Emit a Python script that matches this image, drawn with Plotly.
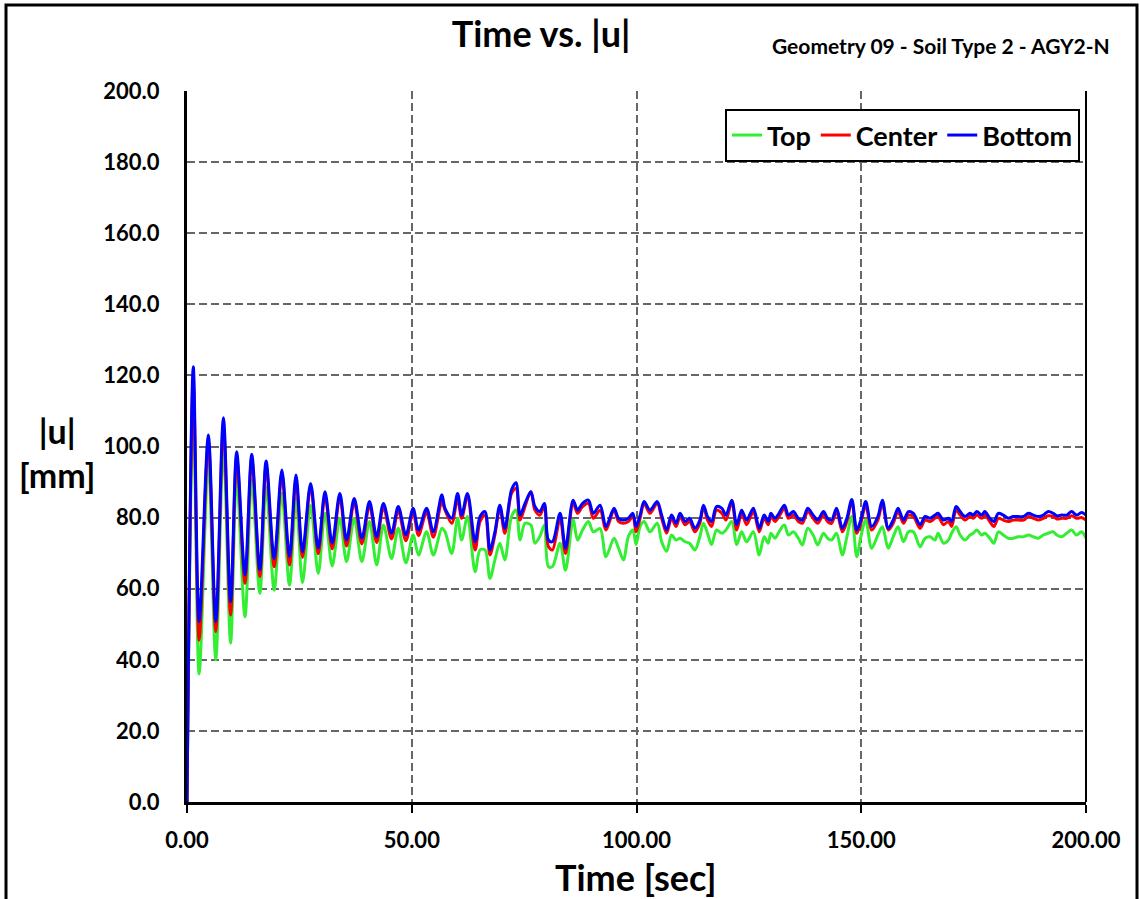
import plotly.graph_objects as go

# ---- data ----
time_s = [
    0, 1.4, 2.7, 4.75, 6.4, 8.1, 9.7, 11.05, 12.9, 14.4, 16.2, 17.6, 19.4, 21.1, 22.8, 24.25,
    25.7, 27.5, 29.2, 30.7, 32.3, 34.0, 35.5, 37.2, 38.9, 40.6, 42.2, 43.7, 45.5, 47.0, 48.7,
    50.3, 51.5, 53.3, 54.8, 56.7,
    57.4, 58.9, 60.2, 61.1, 62.4, 64.1, 65.2, 66.3, 67.4, 68.5, 69.6, 70.7, 72.2, 73.2, 74.1,
    75.2, 76.5, 77.4, 78.5, 79.5, 80.4, 81.3, 83.0, 84.2, 85.9, 86.9, 88.0, 89.3, 90.4, 91.9,
    93.2, 95.0, 96.0, 97.1, 98.2, 99.2, 99.9, 100.8, 101.7, 103.0, 104.6, 105.6, 106.7, 107.8,
    108.8, 109.7, 110.8, 111.8, 113.0, 114.1, 114.9, 115.8, 116.7, 117.8, 119.0, 119.9, 121.2,
    122.3, 123.4, 124.5, 126.0,
    127.3, 128.4, 129.3, 129.9, 130.8, 131.7, 132.9, 133.8, 134.9, 136.0, 136.9, 138.1, 139.3,
    140.3, 141.6, 142.5, 143.4, 144.5, 145.8, 146.8, 147.9, 149.0, 149.9, 151.0, 152.3, 153.7,
    154.7, 156.0, 157.1, 158.2, 159.4, 160.5, 161.6, 163.1,
    164.2, 165.3, 166.4, 167.1, 168.3, 169.4, 170.1, 171.1, 172.0, 173.1, 174.2, 174.9, 175.7,
    176.8, 177.5, 178.6, 179.5, 180.5, 181.6, 182.7, 183.8, 184.9, 186.1, 187.2, 188.3, 189.4,
    190.5, 191.6, 192.7, 193.5, 194.6, 195.7, 196.8, 197.9, 199.0, 200.0,
]

u_top = [
    0, 112.0, 36.0, 95.7, 40.0, 100.0, 44.7, 91.5, 52.1, 90.6, 58.7, 88.7, 59.6, 86.8, 61.0, 85.4,
    61.7, 83.5, 64.3, 81.2, 66.4, 79.8, 67.6, 79.8, 67.6, 78.9, 66.7, 77.9, 68.5, 77.0, 67.3,
    75.1, 69.5, 76.0, 69.5, 77.0,
    76.0, 69.9, 79.8, 73.7, 80.3, 64.8, 70.9, 70.9, 62.9, 68.1, 72.8, 68.1, 80.3, 82.1, 73.7,
    78.4, 77.9, 72.8, 74.7, 77.9, 66.2, 66.2, 72.8, 65.2, 79.3, 73.7, 76.5, 78.9, 76.0, 76.9,
    69.0, 74.2, 71.4, 68.1, 74.7, 76.5, 72.4, 77.5, 78.9, 76.0, 78.4, 73.2, 70.5, 75.1,
    73.7, 74.2, 73.2, 72.8, 70.9, 74.7, 78.4, 75.6, 72.4, 76.5, 75.6, 76.5, 78.9,
    72.4, 76.0, 73.2, 76.0,
    69.5, 74.6, 72.8, 75.6, 74.2, 76.0, 77.9, 75.1, 76.0, 74.2, 72.3, 77.0, 75.1,
    72.3, 75.6, 74.2, 73.7, 75.6, 69.5, 74.6, 80.3, 69.0, 74.6, 79.3, 71.4, 75.1,
    77.4, 71.4, 74.6, 77.4, 73.2, 76.0, 76.0, 71.8,
    74.2, 74.6, 73.7, 75.6, 72.8, 73.7, 75.6, 77.4, 75.1, 73.7, 75.1, 75.6, 76.5,
    75.1, 75.6, 74.2, 72.8, 76.0, 75.1, 74.2, 74.2, 74.6, 74.6, 75.1, 74.6, 74.2,
    75.1, 75.6, 76.0, 75.1, 74.6, 75.6, 76.5, 75.1, 76.0, 74.2,
]

u_center = [
    0, 119.0, 45.5, 101.5, 47.9, 106.0, 52.6, 97.0, 61.5, 96.5, 63.4, 94.5, 66.2, 92.0, 66.7, 90.5,
    68.8, 88.7, 69.8, 86.3, 71.2, 85.8, 72.0, 84.4, 72.6, 83.5, 73.0, 83.0, 74.0, 82.1, 73.5,
    81.6, 75.0, 81.5, 74.5, 84.5,
    82.1, 78.4, 85.4, 79.8, 85.9, 70.9, 78.9, 80.7, 69.5, 75.1, 82.6, 75.6, 86.8, 88.2, 79.3,
    83.1, 87.3, 82.1, 80.7, 83.1, 71.9, 70.9, 79.8, 69.9, 84.0, 81.2, 83.1, 84.0, 79.8, 82.1,
    76.5, 82.1, 78.9, 78.4, 78.9, 80.3, 76.0, 79.8, 84.0, 81.2, 84.0, 79.8, 75.6, 79.8,
    77.5, 80.3, 78.0, 78.9, 76.0, 78.4, 83.1, 79.3, 77.5, 82.1, 81.2, 79.3, 84.5,
    76.5, 81.2, 78.0, 81.7,
    76.0, 79.8, 78.0, 80.3, 78.9, 80.3, 82.6, 79.8, 80.7, 78.9, 78.4, 81.7, 79.8,
    78.4, 80.7, 78.9, 78.4, 81.7, 76.0, 78.9, 84.5, 75.6, 78.4, 83.5, 76.5, 79.3,
    84.0, 76.5, 78.4, 81.7, 78.4, 80.7, 80.3, 77.0,
    79.3, 78.9, 79.8, 80.3, 78.0, 78.9, 77.5, 82.1, 80.7, 79.3, 80.3, 79.8, 80.7,
    79.8, 80.7, 78.9, 77.5, 79.8, 79.3, 78.9, 79.3, 79.3, 79.3, 80.3, 79.8, 79.3,
    79.8, 80.5, 80.3, 79.6, 79.8, 79.8, 80.5, 79.8, 80.0, 79.3,
]

u_bottom = [
    0, 122.4, 50.7, 103.2, 50.7, 108.1, 56.3, 98.5, 63.9, 97.8, 65.3, 95.9, 68.5, 93.4, 69.0, 92.0,
    70.4, 89.6, 71.4, 87.3, 72.8, 86.8, 73.7, 85.4, 74.2, 84.5, 74.6, 84.0, 75.6, 83.1, 75.1,
    82.6, 76.5, 82.6, 76.0, 86.4,
    82.6, 79.8, 86.8, 80.7, 86.8, 73.2, 80.3, 81.7, 70.9, 76.0, 83.5, 77.0, 87.8, 89.8, 80.7,
    84.0, 87.3, 83.1, 81.7, 84.0, 73.7, 73.2, 81.2, 71.4, 84.9, 82.1, 84.0, 84.9, 81.2, 83.5,
    77.5, 82.6, 79.8, 79.3, 79.8, 81.2, 77.5, 80.7, 84.5, 82.1, 84.5, 80.7, 76.5, 80.7,
    78.4, 81.2, 78.9, 79.8, 77.0, 79.3, 83.5, 80.3, 78.9, 83.1, 82.6, 80.7, 84.9,
    78.0, 82.1, 79.3, 82.6,
    77.0, 80.7, 78.9, 81.2, 79.8, 81.2, 83.5, 80.7, 81.7, 79.8, 79.3, 82.6, 80.7,
    79.3, 81.7, 79.8, 79.3, 82.6, 77.0, 79.8, 85.1, 76.5, 79.3, 84.5, 77.5, 80.3,
    84.9, 77.0, 79.3, 82.6, 79.3, 81.7, 81.2, 78.0,
    80.3, 79.8, 80.7, 81.2, 79.3, 79.8, 78.9, 83.1, 81.7, 80.3, 81.2, 80.7, 81.7,
    80.7, 81.7, 79.8, 78.9, 81.2, 80.7, 79.8, 80.3, 80.3, 80.3, 81.2, 80.7, 80.3,
    80.7, 81.7, 81.2, 80.5, 80.7, 80.7, 81.7, 80.7, 81.4, 80.7,
]

series_names = ["Top", "Center", "Bottom"]
series_colors = ["#33EE33", "#FF0000", "#0000FF"]

x_ticks = [0, 50, 100, 150, 200]
y_ticks = [0, 20, 40, 60, 80, 100, 120, 140, 160, 180, 200]

FONT = "Lato"

fig = go.Figure()
for name, vals, col in zip(series_names, [u_top, u_center, u_bottom], series_colors):
    fig.add_trace(go.Scatter(
        x=time_s, y=vals, mode="lines", name=name,
        line=dict(color=col, width=3, shape="spline", smoothing=0.9),
    ))

grid_col = "#666666"
fig.update_layout(
    width=1140, height=899,
    margin=dict(l=187, r=54, t=91, b=97),
    paper_bgcolor="white", plot_bgcolor="white",
    font=dict(family=FONT, color="black", weight="bold"),
    title=dict(
        text="Time vs. |u|", x=0.4746, xanchor="center", y=0.962, yanchor="middle",
        font=dict(family=FONT, size=36, color="black", weight="bold"),
    ),
    showlegend=True,
    legend=dict(
        orientation="h", x=0.9933, xanchor="right", y=0.9747, yanchor="top",
        bgcolor="white", bordercolor="black", borderwidth=2,
        font=dict(family=FONT, size=27, color="black", weight="bold"),
        itemwidth=30, tracegroupgap=0,
    ),
    xaxis=dict(
        range=[0, 200], tickvals=x_ticks, tickformat=".2f",
        showgrid=True, gridcolor=grid_col, gridwidth=1.6, griddash="8px,4px",
        showline=True, linecolor="black", linewidth=3,
        ticks="outside", ticklen=8, tickwidth=2, tickcolor="black",
        tickfont=dict(family=FONT, size=22, color="black", weight="bold"),
        ticklabelstandoff=9, zeroline=False,
    ),
    yaxis=dict(
        range=[0, 200], tickvals=y_ticks, tickformat=".1f",
        showgrid=True, gridcolor=grid_col, gridwidth=1.6, griddash="8px,4px",
        showline=True, linecolor="black", linewidth=3,
        ticks="", tickfont=dict(family=FONT, size=22, color="black", weight="bold"),
        ticklabelstandoff=20, zeroline=False,
    ),
    annotations=[
        dict(text="Geometry 09 - Soil Type 2 - AGY2-N", xref="paper", yref="paper",
             x=(1112 - 187) / 899, y=(802 - 45) / 711, xanchor="right", yanchor="middle",
             showarrow=False, font=dict(family=FONT, size=21, color="black", weight="bold")),
        dict(text="|u|<br>[mm]", xref="paper", yref="paper",
             x=(57 - 187) / 899, y=(802 - 453) / 711, xanchor="center", yanchor="middle",
             showarrow=False, align="center",
             font=dict(family=FONT, size=34, color="black", weight="bold")),
        dict(text="Time [sec]", xref="paper", yref="paper",
             x=(636 - 187) / 899, y=(802 - 877) / 711, xanchor="center", yanchor="middle",
             showarrow=False, font=dict(family=FONT, size=36, color="black", weight="bold")),
    ],
    shapes=[
        # right plot border
        dict(type="line", xref="paper", yref="paper", x0=1, x1=1, y0=0, y1=1,
             line=dict(color="black", width=2)),
        # outer chart frame
        dict(type="rect", xref="paper", yref="paper",
             x0=(6 - 187) / 899, x1=(1137 - 187) / 899,
             y0=(802 - 910) / 711, y1=(802 - 5) / 711,
             line=dict(color="black", width=3), fillcolor="rgba(0,0,0,0)", layer="above"),
    ],
)

fig.write_html("out.html")
